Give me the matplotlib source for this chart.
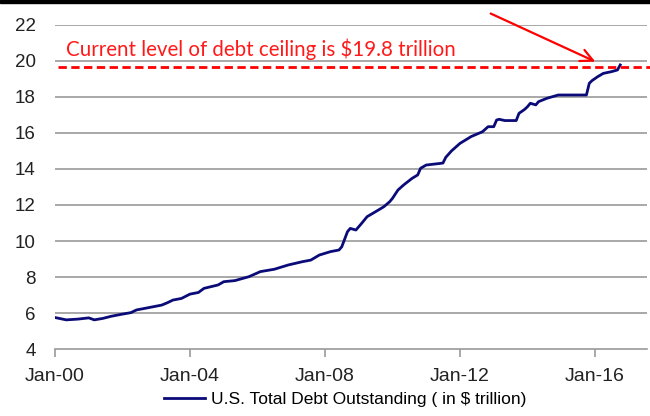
import matplotlib
matplotlib.use("Agg")
import matplotlib.pyplot as plt
import matplotlib.dates as mdates
import pandas as pd
from matplotlib.patches import Rectangle

# values (US total debt, $ trillion)
dates = ["2000-01", "2000-05", "2000-09", "2001-01", "2001-03", "2001-06",
         "2001-09", "2002-01", "2002-04", "2002-06", "2002-09", "2003-03",
         "2003-05", "2003-07", "2003-10", "2004-01", "2004-04", "2004-06",
         "2004-11", "2005-01", "2005-05", "2005-10", "2006-02", "2006-07",
         "2006-12", "2007-05", "2007-08", "2007-11", "2008-03", "2008-06",
         "2008-07", "2008-09", "2008-10", "2008-12", "2009-02", "2009-04",
         "2009-08", "2009-10", "2009-12", "2010-01", "2010-03", "2010-05",
         "2010-08", "2010-10", "2010-11", "2011-01", "2011-06", "2011-07",
         "2011-08", "2011-10", "2012-01", "2012-05", "2012-09", "2012-11",
         "2013-01", "2013-02", "2013-03", "2013-05", "2013-09", "2013-10",
         "2013-12", "2014-01", "2014-02", "2014-04", "2014-05", "2014-08",
         "2014-12", "2015-10", "2015-11", "2015-12", "2016-02", "2016-04",
         "2016-07", "2016-09", "2016-10"]
debt = [5.75, 5.62, 5.66, 5.73, 5.62, 5.70,
        5.82, 5.94, 6.02, 6.17, 6.26, 6.44,
        6.57, 6.72, 6.81, 7.05, 7.14, 7.37,
        7.56, 7.74, 7.80, 8.02, 8.30, 8.43,
        8.67, 8.85, 8.94, 9.22, 9.41, 9.50,
        9.68, 10.52, 10.70, 10.61, 10.98, 11.35,
        11.72, 11.91, 12.18, 12.37, 12.83, 13.11,
        13.48, 13.67, 14.04, 14.22, 14.31, 14.33,
        14.65, 15.00, 15.42, 15.80, 16.07, 16.35,
        16.35, 16.72, 16.76, 16.69, 16.69, 17.09,
        17.31, 17.46, 17.65, 17.56, 17.74, 17.93,
        18.11, 18.11, 18.76, 18.91, 19.13, 19.31,
        19.41, 19.50, 19.78]
ceiling = 19.65
yticks = [4, 6, 8, 10, 12, 14, 16, 18, 20, 22]
xtick_years = [2000, 2004, 2008, 2012, 2016]

x = pd.to_datetime(dates)

plt.rcParams['font.family'] = ['Liberation Sans', 'DejaVu Sans']

fig = plt.figure(figsize=(6.5, 4.16), dpi=100)
ax = fig.add_axes([0.0846, 0.161, 0.9104, 0.779])

for y in yticks[1:]:
    ax.axhline(y, color='#9a9a9a', lw=1.2, zorder=1)

ax.plot(x, debt, color='#0a0a78', lw=2.0, zorder=3,
        label='U.S. Total Debt Outstanding ( in $ trillion)')

ax.axhline(ceiling, xmin=0.005, xmax=1.02, color='#ff0000', lw=2.0,
           dashes=(3, 1.6), zorder=4, clip_on=False)

ax.text(pd.Timestamp("2000-05-01"), 20.65, 'Current level of debt ceiling is $19.8 trillion',
        color='#ff1a1a', fontsize=14.8, family=['Lato', 'DejaVu Sans'], va='center')

ax.annotate('', xy=(pd.Timestamp("2016-02-01"), 19.9),
            xytext=(pd.Timestamp("2012-11-01"), 22.7),
            arrowprops=dict(arrowstyle='->', color='#ff0000', lw=1.6,
                            mutation_scale=22),
            annotation_clip=False)

ax.set_ylim(4, 22)
ax.set_xlim(pd.Timestamp("2000-01-01"), pd.Timestamp("2017-07-15"))
ax.set_yticks(yticks)
ax.set_xticks([pd.Timestamp(f"{yr}-01-01") for yr in xtick_years])
ax.xaxis.set_major_formatter(mdates.DateFormatter('%b-%y'))

for s in ['top', 'right', 'left']:
    ax.spines[s].set_visible(False)
ax.spines['bottom'].set_color('#9a9a9a')
ax.spines['bottom'].set_linewidth(1.2)
ax.tick_params(axis='y', length=0, pad=14, labelsize=13.5, labelcolor='#222222')
ax.tick_params(axis='x', length=6, width=1.2, color='#9a9a9a', direction='out',
               pad=8, labelsize=14, labelcolor='#222222')

ax.legend(loc='upper center', bbox_to_anchor=(0.49, -0.085), frameon=False,
          fontsize=12.5, handlelength=2.4, handletextpad=0.3)

# black border line at top of the picture
fig.patches.append(Rectangle((0, 1 - 3 / 416), 1, 3 / 416, transform=fig.transFigure,
                             color='black', zorder=10))

fig.savefig('out.png', dpi=100)
